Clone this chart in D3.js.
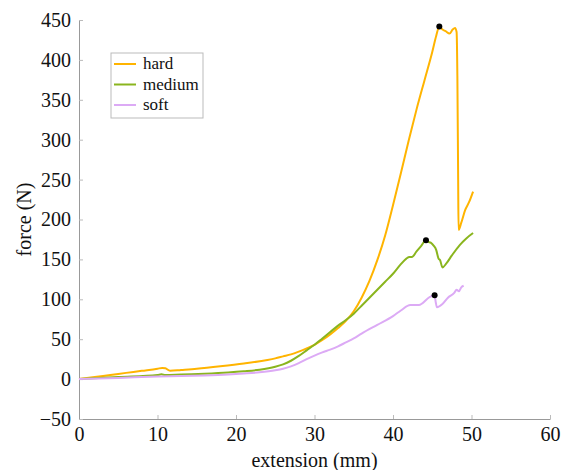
<!DOCTYPE html>
<html>
<head>
<meta charset="utf-8">
<script src="https://cdn.jsdelivr.net/npm/d3@7"></script>
<style>
body { margin: 0; background: #fff; }
svg text { font-family: "Liberation Serif", Tinos, "Times New Roman", Times, "DejaVu Serif", "Noto Serif", serif; fill: #111; }
</style>
</head>
<body>
<svg width="563" height="470"></svg>
<script>
// series values: extension (mm) and force (N)
var hardX = [0, 2, 4, 6, 8, 10, 10.6, 11.0, 11.6, 13, 15, 18, 21, 24, 25, 26, 27, 28, 29, 30, 31, 32, 33, 34, 35, 36, 37, 38, 39, 40, 41, 42, 43, 44, 45, 45.5, 45.9, 46.3, 46.7, 47.2, 47.6, 47.9, 48.1, 48.2, 48.3, 48.35, 48.7, 49.2, 49.7, 50.2];
var hardF = [0, 2.6, 5.2, 7.8, 10.4, 13, 14, 13.5, 10.5, 11.5, 13, 16, 19.5, 24, 26, 28.5, 31, 34.5, 38.5, 43, 49, 56, 64, 73, 85, 102, 123, 149, 180, 218, 258, 299, 338, 374, 410, 430, 442, 438, 436, 433, 438, 440, 435, 380, 250, 187, 196, 212, 222, 235];

var mediumX = [0, 5, 10, 10.5, 11, 13, 16, 19, 21, 23, 25, 26, 27, 28, 29, 30, 31, 32, 33, 34, 35, 36, 37, 38, 39, 40, 41, 41.7, 42.1, 42.4, 43, 43.6, 44.2, 44.5, 44.8, 45.2, 45.5, 45.8, 46.0, 46.3, 46.8, 47.5, 48.5, 49.3, 50.2];
var mediumF = [0, 2.5, 5, 6, 5, 5.8, 6.8, 8.3, 9.8, 11.8, 15.5, 18.5, 23, 29, 36, 43, 51, 59, 67, 74, 82, 92, 102, 112, 122, 132, 144, 151, 153, 153, 160, 167, 174, 172, 171, 167, 162, 151, 149, 140, 145, 155, 168, 176, 183];

var softX = [0, 5, 10, 13, 16, 19, 21, 23, 25, 26, 27, 28, 29, 30, 31, 32, 33, 34, 35, 36, 38, 40, 41, 42.2, 43.3, 44.7, 45.3, 45.45, 45.6, 46.3, 47, 47.8, 48.1, 48.4, 48.7, 49];
var softF = [0, 1.5, 3.2, 3.8, 4.6, 5.8, 7, 8.5, 11, 13, 16, 20, 25, 29.5, 33.5, 37, 41, 46, 51, 57, 68, 79, 86, 93, 93, 103, 105, 96, 90, 94, 102, 108, 112, 110, 115, 117];

// peak markers
var peakX = [45.9, 44.2, 45.3];
var peakF = [442, 174, 105];

var seriesNames = ['hard', 'medium', 'soft'];
var seriesColors = ['#ffb400', '#8ab51e', '#dcaaf5'];

var xTicks = [0, 10, 20, 30, 40, 50, 60];
var yTicks = [-50, 0, 50, 100, 150, 200, 250, 300, 350, 400, 450];

var svg = d3.select('svg');
var padding = {t: 20, r: 13, b: 51, l: 79};
var chartWidth = +svg.attr('width') - padding.l - padding.r;
var chartHeight = +svg.attr('height') - padding.t - padding.b;

var xScale = d3.scaleLinear().domain([0, 60]).range([0, chartWidth]);
var yScale = d3.scaleLinear().domain([-50, 450]).range([chartHeight, 0]);

var chartG = svg.append('g')
    .attr('transform', 'translate(' + [padding.l, padding.t] + ')');

// axes
var xAxis = chartG.append('g')
    .attr('transform', 'translate(0,' + chartHeight + ')')
    .call(d3.axisBottom(xScale).tickValues(xTicks).tickSizeInner(-4).tickSizeOuter(0).tickPadding(8));
var yAxis = chartG.append('g')
    .call(d3.axisLeft(yScale).tickValues(yTicks).tickSizeInner(-4).tickSizeOuter(0).tickPadding(8)
        .tickFormat(function(d) { return d < 0 ? '\u2212' + Math.abs(d) : d; }));

[xAxis, yAxis].forEach(function(a) {
    a.attr('font-family', null).attr('font-size', null);
    a.select('.domain').attr('stroke', '#999');
    a.selectAll('.tick line').attr('stroke', '#bbb');
    a.selectAll('.tick text')
        .style('font-size', '20px')
        .attr('fill', '#111');
});

// axis titles
svg.append('text')
    .attr('x', padding.l + xScale(30))
    .attr('y', 467)
    .attr('text-anchor', 'middle')
    .style('font-size', '20px')
    .text('extension (mm)');

svg.append('text')
    .attr('transform', 'translate(31,' + (padding.t + yScale(200)) + ') rotate(-90)')
    .attr('text-anchor', 'middle')
    .style('font-size', '20px')
    .text('force (N)');

// curves
var line = d3.line()
    .x(function(d) { return xScale(d[0]); })
    .y(function(d) { return yScale(d[1]); })
    .curve(d3.curveMonotoneX);

var seriesData = [d3.zip(hardX, hardF), d3.zip(mediumX, mediumF), d3.zip(softX, softF)];

chartG.selectAll('.curve')
    .data(seriesData)
    .enter()
    .append('path')
    .attr('class', 'curve')
    .attr('fill', 'none')
    .attr('stroke', function(d, i) { return seriesColors[i]; })
    .attr('stroke-width', 2)
    .attr('stroke-linejoin', 'round')
    .attr('d', line);

chartG.selectAll('.peak')
    .data(d3.zip(peakX, peakF))
    .enter()
    .append('circle')
    .attr('class', 'peak')
    .attr('cx', function(d) { return xScale(d[0]); })
    .attr('cy', function(d) { return yScale(d[1]); })
    .attr('r', 3)
    .attr('fill', '#000');

// legend
var legendG = svg.append('g').attr('transform', 'translate(111,53)');
legendG.append('rect')
    .attr('width', 92)
    .attr('height', 65)
    .attr('fill', '#fff')
    .attr('stroke', '#bbb');

var items = legendG.selectAll('.item')
    .data(seriesNames)
    .enter()
    .append('g')
    .attr('class', 'item')
    .attr('transform', function(d, i) { return 'translate(0,' + (11 + i * 20.5) + ')'; });

items.append('line')
    .attr('x1', 3).attr('x2', 25)
    .attr('stroke', function(d, i) { return seriesColors[i]; })
    .attr('stroke-width', 2);

items.append('text')
    .attr('x', 32)
    .attr('dy', '0.32em')
    .style('font-size', '17px')
    .text(function(d) { return d; });
</script>
</body>
</html>
